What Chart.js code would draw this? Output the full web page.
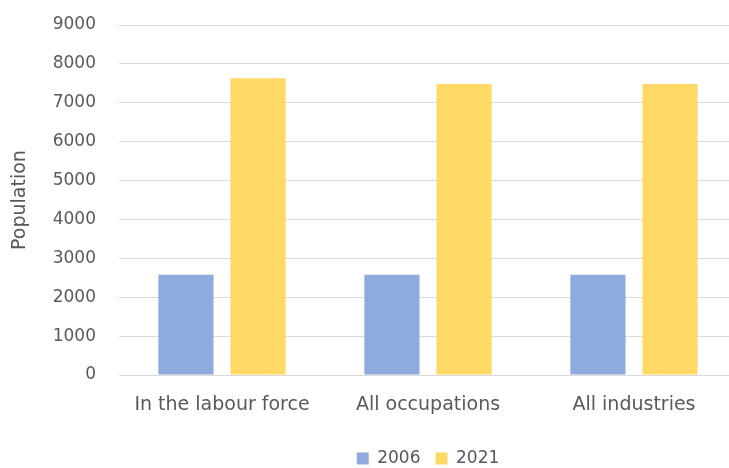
<!DOCTYPE html>
<html>
<head>
<meta charset="utf-8">
<script src="https://cdn.jsdelivr.net/npm/chart.js@4"></script>
<style>
  html, body { margin: 0; padding: 0; background: #fff; overflow: hidden; }
  #wrap { width: 740px; height: 468px; }
</style>
</head>
<body>
<div id="wrap"><canvas id="popChart"></canvas></div>
<script>
const categories = ['In the labour force', 'All occupations', 'All industries'];
const years = ['2006', '2021'];
const values2006 = [2580, 2580, 2580];
const values2021 = [7630, 7480, 7480];
const yTicks = [0, 1000, 2000, 3000, 4000, 5000, 6000, 7000, 8000, 9000];

const textColor = '#595959';
const fontFamily = "'DejaVu Sans', 'Noto Sans', sans-serif";

new Chart(document.getElementById('popChart'), {
    type: 'bar',
    data: {
        labels: categories,
        datasets: [
            { label: years[0], data: values2006, backgroundColor: '#8faadc' },
            { label: years[1], data: values2021, backgroundColor: '#ffd966' }
        ]
    },
    options: {
        responsive: true,
        maintainAspectRatio: false,
        animation: false,
        categoryPercentage: 0.70,
        barPercentage: 0.765,
        layout: { padding: { top: 25, right: 3, bottom: -9, left: 0 } },
        plugins: {
            legend: {
                position: 'bottom',
                fullSize: false,
                labels: {
                    boxWidth: 12,
                    boxHeight: 12,
                    padding: 15,
                    color: textColor,
                    font: { family: fontFamily, size: 17 }
                }
            },
            tooltip: { enabled: false }
        },
        scales: {
            x: {
                grid: { display: false, drawTicks: false },
                border: { display: false },
                ticks: {
                    padding: 19,
                    color: textColor,
                    font: { family: fontFamily, size: 19 }
                },
                afterFit: (scale) => { scale.height = 60; }
            },
            y: {
                min: 0,
                max: 9000,
                afterBuildTicks: (scale) => { scale.ticks = yTicks.map(v => ({ value: v })); },
                grid: { color: '#d9d9d9', lineWidth: 1, drawTicks: false },
                border: { display: false },
                ticks: {
                    padding: 23,
                    color: textColor,
                    font: { family: fontFamily, size: 17 },
                    callback: (v) => String(v)
                },
                title: {
                    display: true,
                    text: 'Population',
                    color: textColor,
                    font: { family: fontFamily, size: 19 },
                    padding: { top: 9, bottom: 0 }
                },
                afterFit: (scale) => {
                    scale.width = 119;
                    scale.paddingTop = 0;
                    scale.paddingBottom = 0;
                }
            }
        }
    }
});
</script>
</body>
</html>
